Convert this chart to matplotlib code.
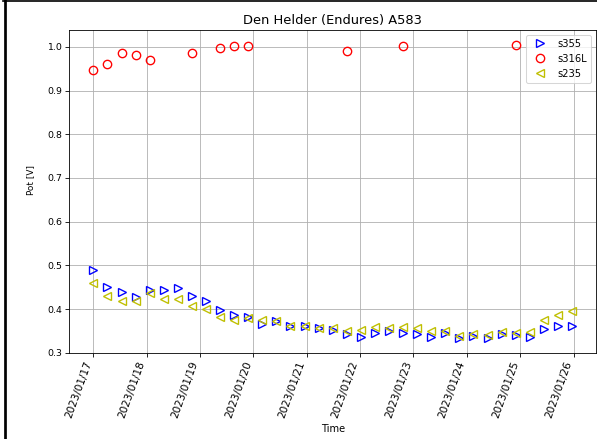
import matplotlib
matplotlib.use("Agg")
import matplotlib.pyplot as plt
import matplotlib.dates as mdates
from matplotlib.lines import Line2D
import pandas as pd

# Measurement timestamps (every ~6h20m)
times = [
    "2023-01-17 00:00", "2023-01-17 06:20", "2023-01-17 12:40", "2023-01-17 19:00",
    "2023-01-18 01:20", "2023-01-18 07:40", "2023-01-18 14:00", "2023-01-18 20:20",
    "2023-01-19 02:40", "2023-01-19 09:00", "2023-01-19 15:20", "2023-01-19 21:40",
    "2023-01-20 04:00", "2023-01-20 10:20", "2023-01-20 16:40", "2023-01-20 23:00",
    "2023-01-21 05:20", "2023-01-21 11:40", "2023-01-21 18:00", "2023-01-22 00:20",
    "2023-01-22 06:40", "2023-01-22 13:00", "2023-01-22 19:20", "2023-01-23 01:40",
    "2023-01-23 08:00", "2023-01-23 14:20", "2023-01-23 20:40", "2023-01-24 03:00",
    "2023-01-24 09:20", "2023-01-24 15:40", "2023-01-24 22:00", "2023-01-25 04:20",
    "2023-01-25 10:40", "2023-01-25 17:00", "2023-01-25 23:20",
]

s355 = [0.489, 0.450, 0.438, 0.427, 0.443, 0.443, 0.447, 0.430, 0.418, 0.398,
        0.386, 0.382, 0.366, 0.372, 0.360, 0.362, 0.356, 0.352, 0.343, 0.335,
        0.346, 0.350, 0.344, 0.343, 0.337, 0.344, 0.334, 0.339, 0.334, 0.343,
        0.340, 0.337, 0.354, 0.360, 0.360]

s235 = [0.460, 0.430, 0.419, 0.419, 0.436, 0.424, 0.424, 0.408, 0.399, 0.382,
        0.375, 0.379, 0.375, 0.373, 0.362, 0.362, 0.356, 0.356, 0.350, 0.352,
        0.358, 0.356, 0.358, 0.356, 0.350, 0.350, 0.338, 0.343, 0.341, 0.347,
        0.344, 0.348, 0.375, 0.386, 0.395]

# s316L was only read at a subset of the timestamps
s316l_idx = [0, 1, 2, 3, 4, 7, 9, 10, 11, 18, 22, 30]
s316l = [0.947, 0.961, 0.985, 0.981, 0.971, 0.986, 0.997, 1.003, 1.003,
         0.990, 1.001, 1.005]

t = pd.to_datetime(times)
t316 = t[s316l_idx]

fig = plt.figure(figsize=(597 / 75, 439 / 75), dpi=75)
ax = fig.add_axes([0.1163, 0.1966, 0.882, 0.735])

ms = 8
mew = 1.3
ax.plot(t, s355, linestyle="none", marker=">", color="b", mfc="none",
        ms=ms, mew=mew, label="s355")
ax.plot(t316, s316l, linestyle="none", marker="o", color="r", mfc="none",
        ms=ms, mew=mew, label="s316L")
ax.plot(t, s235, linestyle="none", marker="<", color="y", mfc="none",
        ms=ms, mew=mew, label="s235")

ax.set_ylim(0.3, 1.0385)
ax.xaxis.set_major_locator(mdates.DayLocator())
ax.xaxis.set_major_formatter(mdates.DateFormatter("%Y/%m/%d"))
ax.tick_params(axis="x", labelsize=10)
ax.tick_params(axis="y", labelsize=9)
plt.setp(ax.get_xticklabels(), rotation=70, ha="right")

ax.grid(True)
ax.set_title("Den Helder (Endures) A583", fontsize=12.5)
ax.set_xlabel("Time", fontsize=9.5)
ax.set_ylabel("Pot [V]", fontsize=8.5)
ax.yaxis.set_label_coords(-0.066, 0.535)
ax.legend(loc="upper right", fontsize=9.5)

# frame edges along the left and top of the canvas
fig.add_artist(Line2D([0.0079, 0.0079], [0, 1], transform=fig.transFigure,
                      color="k", lw=2.6))
fig.add_artist(Line2D([0.005, 1], [0.998, 0.998], transform=fig.transFigure,
                      color="k", lw=1.6))

fig.savefig("out.png", dpi=75)
